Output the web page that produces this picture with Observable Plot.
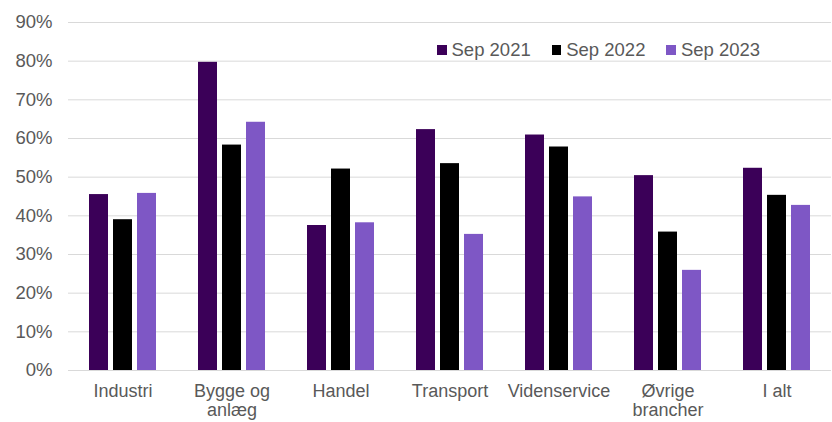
<!DOCTYPE html>
<html><head><meta charset="utf-8">
<script src="https://cdn.jsdelivr.net/npm/d3@7"></script>
<script src="https://cdn.jsdelivr.net/npm/@observablehq/plot@0.6"></script>
<style>
body{margin:0;background:#fff;font-family:"Liberation Sans",Arial,sans-serif;}
#wrap{position:relative;width:832px;height:422px;overflow:hidden;}
#legend{position:absolute;left:437px;top:40px;display:flex;gap:21px;font-size:18.5px;line-height:20px;color:#595959;}
#legend .item{display:flex;align-items:center;}
#legend .sw{width:9.5px;height:9.5px;margin-right:5px;}
</style>
</head><body>
<div id="wrap"><div id="chart"></div><div id="legend"></div></div>
<script>
const categories = ["Industri","Bygge og anlæg","Handel","Transport","Videnservice","Øvrige brancher","I alt"];
const tickLabels = ["Industri","Bygge og\nanlæg","Handel","Transport","Videnservice","Øvrige\nbrancher","I alt"];
const series = ["Sep 2021","Sep 2022","Sep 2023"];
const sep2021 = [45.5,79.7,37.5,62.3,60.9,50.4,52.3];
const sep2022 = [39.0,58.3,52.1,53.5,57.8,35.8,45.3];
const sep2023 = [45.8,64.2,38.2,35.2,44.9,25.9,42.7];
const colors = ["#3B0058","#000000","#7E57C5"];
const yTicks = [0,10,20,30,40,50,60,70,80,90];

const values = [sep2021, sep2022, sep2023];
const rows = [];
series.forEach((s,i)=>categories.forEach((c,j)=>rows.push({category:c, series:s, value:values[i][j]})));

const chart = Plot.plot({
  width:832, height:422,
  marginLeft:67, marginRight:1, marginTop:22, marginBottom:52,
  style:{fontFamily:'"Liberation Sans",Arial,sans-serif', fontSize:"18.5px", color:"#595959", background:"white"},
  fx:{domain:categories, padding:0, label:null},
  x:{domain:series, paddingInner:0.204, paddingOuter:0.83, axis:null},
  y:{domain:[0,90], label:null},
  color:{domain:series, range:colors},
  marks:[
    Plot.gridY(yTicks, {stroke:"#d9d9d9", strokeOpacity:1, strokeWidth:1}),
    Plot.barY(rows, {fx:"category", x:"series", y:"value", fill:"series"}),
    Plot.axisFx({anchor:"bottom", tickSize:0, tickPadding:12, lineHeight:1.1, label:null,
      tickFormat:d=>tickLabels[categories.indexOf(d)], fill:"#595959", fontSize:"18px"}),
    Plot.axisY(yTicks, {tickSize:0, tickPadding:16, label:null, tickFormat:d=>d+"%", fill:"#595959", fontSize:"18.5px"})
  ]
});
document.getElementById("chart").appendChild(chart);

const legend = document.getElementById("legend");
series.forEach((s,i)=>{
  const it=document.createElement("div"); it.className="item";
  const sw=document.createElement("div"); sw.className="sw"; sw.style.background=colors[i];
  const t=document.createElement("span"); t.textContent=s;
  it.appendChild(sw); it.appendChild(t); legend.appendChild(it);
});
</script>
</body></html>
